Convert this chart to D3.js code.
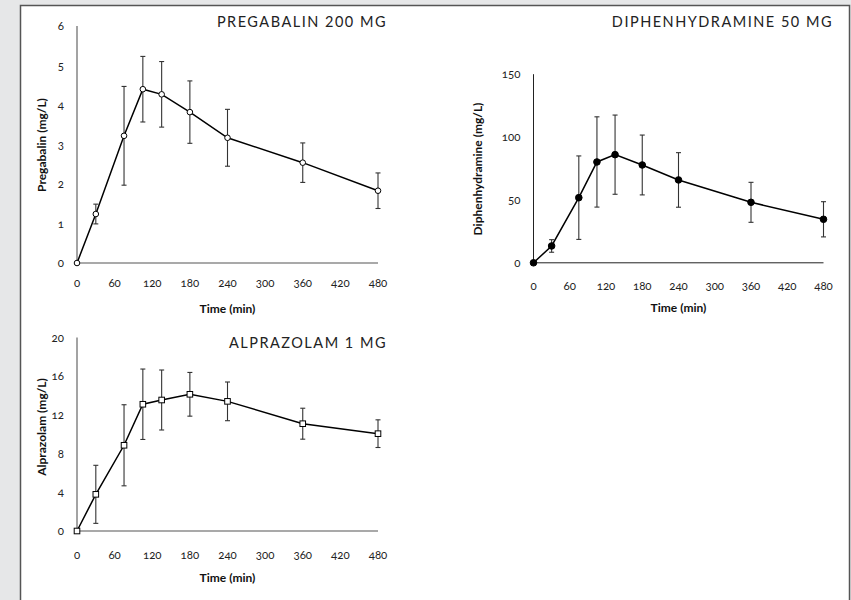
<!DOCTYPE html>
<html><head><meta charset="utf-8">
<script src="https://cdn.jsdelivr.net/npm/d3@7"></script>
<style>
html,body{margin:0;padding:0;background:#e6e7e8;}
svg{display:block;font-family:Lato,"Noto Sans",sans-serif;font-feature-settings:"onum" 1;}
.ttl{font-feature-settings:"lnum" 1;}
</style></head><body>
<svg id="c" width="851" height="600"></svg>
<script>
// ---- data ----
const times = [0, 30, 75, 105, 135, 180, 240, 360, 480];
const xTicks = [0, 60, 120, 180, 240, 300, 360, 420, 480];

const pregabalinMean = [0, 1.24, 3.22, 4.40, 4.27, 3.82, 3.17, 2.54, 1.83];
const pregabalinSD   = [0, 0.25, 1.25, 0.83, 0.83, 0.79, 0.72, 0.50, 0.45];
const pregabalinTicks = [0, 1, 2, 3, 4, 5, 6];

const diphenMean = [0, 13.4, 51.8, 80.2, 86.0, 77.8, 65.9, 48.1, 34.6];
const diphenSD   = [0, 5.0, 33.2, 35.9, 31.5, 23.8, 21.7, 15.9, 14.0];
const diphenTicks = [0, 50, 100, 150];

const alprazMean = [0, 3.79, 8.86, 13.1, 13.54, 14.13, 13.4, 11.09, 10.06];
const alprazSD   = [0, 3.0, 4.19, 3.64, 3.1, 2.26, 2.0, 1.6, 1.43];
const alprazTicks = [0, 4, 8, 12, 16, 20];

const titles = ["PREGABALIN 200 MG", "DIPHENHYDRAMINE 50 MG", "ALPRAZOLAM 1 MG"];
const yLabels = ["Pregabalin (mg/L)", "Diphenhydramine (mg/L)", "Alprazolam (mg/L)"];
const xLabel = "Time (min)";

// ---- drawing ----
const svg = d3.select("#c");
svg.append("rect").attr("x", 20.5).attr("y", 5.5).attr("width", 829).attr("height", 620)
  .attr("fill", "#fff").attr("stroke", "#555").attr("stroke-width", 1.5);

const panels = [
  {mean: pregabalinMean, sd: pregabalinSD, ticks: pregabalinTicks, ymax: 6,
   x0: 77, x1: 378, y0: 263, y1: 26, axisColor: "#8c8c8c", axisW: 1.6, marker: "openCircle",
   title: titles[0], titleX: 387, titleY: 22, ylab: yLabels[0], ylabX: 42, ylabY: 145,
   tickY: 283, xlabY: 309},
  {mean: diphenMean, sd: diphenSD, ticks: diphenTicks, ymax: 150,
   x0: 533.5, x1: 823.5, y0: 262.8, y1: 74.2, axisColor: "#222", axisW: 1, marker: "filledCircle",
   title: titles[1], titleX: 833, titleY: 21.5, ylab: yLabels[1], ylabX: 478, ylabY: 169,
   tickY: 286, xlabY: 308},
  {mean: alprazMean, sd: alprazSD, ticks: alprazTicks, ymax: 20,
   x0: 77, x1: 378, y0: 531, y1: 337.5, axisColor: "#8c8c8c", axisW: 1.6, marker: "square",
   title: titles[2], titleX: 387, titleY: 342.7, ylab: yLabels[2], ylabX: 42, ylabY: 427,
   tickY: 555, xlabY: 578}
];

panels.forEach(p => {
  const g = svg.append("g");
  const x = d3.scaleLinear().domain([0, 480]).range([p.x0, p.x1]);
  const y = d3.scaleLinear().domain([0, p.ymax]).range([p.y0, p.y1]);

  // axes lines
  g.append("line").attr("x1", p.x0).attr("x2", p.x0).attr("y1", y(0)).attr("y2", y(p.ymax))
    .attr("stroke", p.axisColor).attr("stroke-width", p.axisW);
  g.append("line").attr("x1", p.x0).attr("x2", x(480)).attr("y1", y(0)).attr("y2", y(0))
    .attr("stroke", p.axisColor).attr("stroke-width", p.axisW);

  // y tick labels
  g.selectAll(".yt").data(p.ticks).enter().append("text")
    .attr("x", p.x0 - 13).attr("y", d => y(d)).attr("dy", "0.35em")
    .attr("text-anchor", "end").attr("font-size", 11.5).attr("fill", "#222")
    .text(d => d);
  // x tick labels
  g.selectAll(".xt").data(xTicks).enter().append("text")
    .attr("x", d => x(d)).attr("y", p.tickY).attr("dy", "0.35em")
    .attr("text-anchor", "middle").attr("font-size", 11.5).attr("fill", "#222")
    .text(d => d);

  // axis titles
  g.append("text").attr("transform", `translate(${p.ylabX},${p.ylabY}) rotate(-90)`)
    .attr("text-anchor", "middle").attr("dy", "0.35em").attr("font-weight", "bold")
    .attr("font-size", 12).attr("fill", "#111").text(p.ylab);
  g.append("text").attr("x", (p.x0 + p.x1) / 2).attr("y", p.xlabY).attr("dy", "0.35em")
    .attr("text-anchor", "middle").attr("font-weight", "bold")
    .attr("font-size", 12).attr("fill", "#111").text(xLabel);

  // title
  g.append("text").attr("class", "ttl").attr("x", p.titleX).attr("y", p.titleY).attr("dy", "0.35em")
    .attr("text-anchor", "end").attr("font-size", 14.5).attr("letter-spacing", "1.5px")
    .attr("fill", "#222").text(p.title);

  const data = times.map((t, i) => ({t, m: p.mean[i], s: p.sd[i]}));

  // error bars
  const eb = g.selectAll(".eb").data(data.filter(d => d.s > 0)).enter().append("g")
    .attr("stroke", "#333").attr("stroke-width", 1.1);
  eb.append("line").attr("x1", d => x(d.t)).attr("x2", d => x(d.t))
    .attr("y1", d => y(d.m + d.s)).attr("y2", d => y(d.m - d.s));
  eb.append("line").attr("x1", d => x(d.t) - 2.5).attr("x2", d => x(d.t) + 2.5)
    .attr("y1", d => y(d.m + d.s)).attr("y2", d => y(d.m + d.s));
  eb.append("line").attr("x1", d => x(d.t) - 2.5).attr("x2", d => x(d.t) + 2.5)
    .attr("y1", d => y(d.m - d.s)).attr("y2", d => y(d.m - d.s));

  // line
  g.append("path").datum(data)
    .attr("d", d3.line().x(d => x(d.t)).y(d => y(d.m)))
    .attr("fill", "none").attr("stroke", "#000").attr("stroke-width", 1.5);

  // markers
  if (p.marker === "square") {
    g.selectAll(".mk").data(data).enter().append("rect")
      .attr("x", d => x(d.t) - 2.8).attr("y", d => y(d.m) - 2.8)
      .attr("width", 5.6).attr("height", 5.6)
      .attr("fill", "#fff").attr("stroke", "#000").attr("stroke-width", 1);
  } else {
    g.selectAll(".mk").data(data).enter().append("circle")
      .attr("cx", d => x(d.t)).attr("cy", d => y(d.m))
      .attr("r", p.marker === "filledCircle" ? 3.3 : 2.8)
      .attr("fill", p.marker === "filledCircle" ? "#000" : "#fff")
      .attr("stroke", "#000").attr("stroke-width", 1);
  }
});
</script>
</body></html>
